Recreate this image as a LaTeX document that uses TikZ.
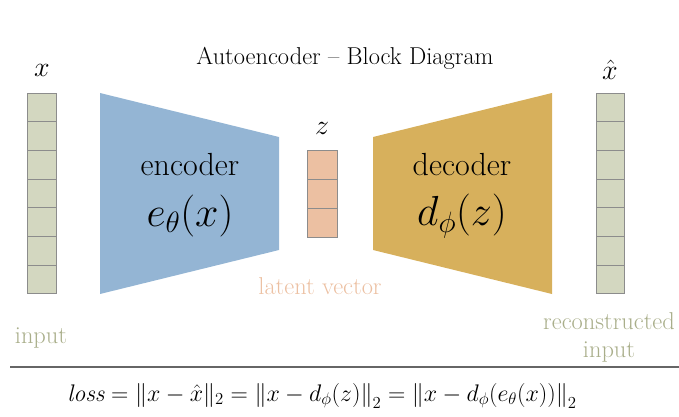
\RequirePackage{fix-cm}
\documentclass[tikz,border=0pt]{standalone}
\usepackage{amsmath}
\usepackage{fontspec}
\usetikzlibrary{positioning}

\definecolor{cellgray}{HTML}{D3D7C0}
\definecolor{encblue}{HTML}{94B5D4}
\definecolor{decgold}{HTML}{D7B05C}
\definecolor{latpeach}{HTML}{ECC0A2}
\definecolor{olivetext}{HTML}{A9AE8A}

\begin{document}
\begin{tikzpicture}[
    x=1pt, y=-1pt,
    cell/.style={draw=black!45, line width=0.9pt, inner sep=0pt, outer sep=0pt,
                 minimum width=29pt, minimum height=28.7pt},
    vec/.style={font=\fontsize{28}{32}\selectfont, inner sep=0pt},
    caption/.style={font=\fontsize{24.4}{28}\selectfont, align=center, inner sep=0pt},
    blocktxt/.style={font=\fontsize{32}{36}\selectfont, inner sep=0pt},
    blockmath/.style={font=\fontsize{42}{46}\selectfont, inner sep=0pt},
]
\useasboundingbox (0,0) rectangle (679,417);

% title
\node[caption] (title) at (345,58) {Autoencoder -- Block Diagram};

% input column
\foreach \i in {0,...,6}
    \node[cell, fill=cellgray] (x\i) at (41.5,107.35+28.7*\i) {};
\node[vec] (xlab) at (42,70) {$x$};
\node[caption, text=olivetext] (inlab) at (41,338) {input};

% encoder
\fill[encblue] (100,93) -- (279,137) -- (279,250) -- (100,294) -- cycle;
\node[blocktxt] (enc) at (190,165) {encoder};
\node[blockmath] (encf) at (190,216) {$e_\theta(x)$};

% latent vector
\foreach \i in {0,1,2}
    \node[cell, fill=latpeach, minimum width=30pt, minimum height=29pt] (z\i) at (322,164.5+29*\i) {};
\node[vec] (zlab) at (322,128) {$z$};
\node[caption, text=latpeach] (latlab) at (320,286) {latent vector};

% decoder
\fill[decgold] (373,137) -- (552,93) -- (552,294) -- (373,250) -- cycle;
\node[blocktxt] (dec) at (462,165) {decoder};
\node[blockmath] (decf) at (462,216) {$d_\phi(z)$};

% reconstructed column
\foreach \i in {0,...,6}
    \node[cell, fill=cellgray, minimum width=28pt] (y\i) at (610,107.35+28.7*\i) {};
\node[vec] (ylab) at (610,70) {$\hat{x}$};
\node[caption, text=olivetext] (outlab) at (609,337) {reconstructed\\input};

% loss
\draw[black!60, line width=1.2pt] (10,367) -- (679,367);
\node[caption, font=\fontsize{24}{28}\selectfont] (loss) at (322,396)
    {$\mathit{loss} = \|x-\hat{x}\|_2 = \left\|x-d_\phi(z)\right\|_2 = \left\|x-d_\phi(e_\theta(x))\right\|_2$};
\end{tikzpicture}
\end{document}
